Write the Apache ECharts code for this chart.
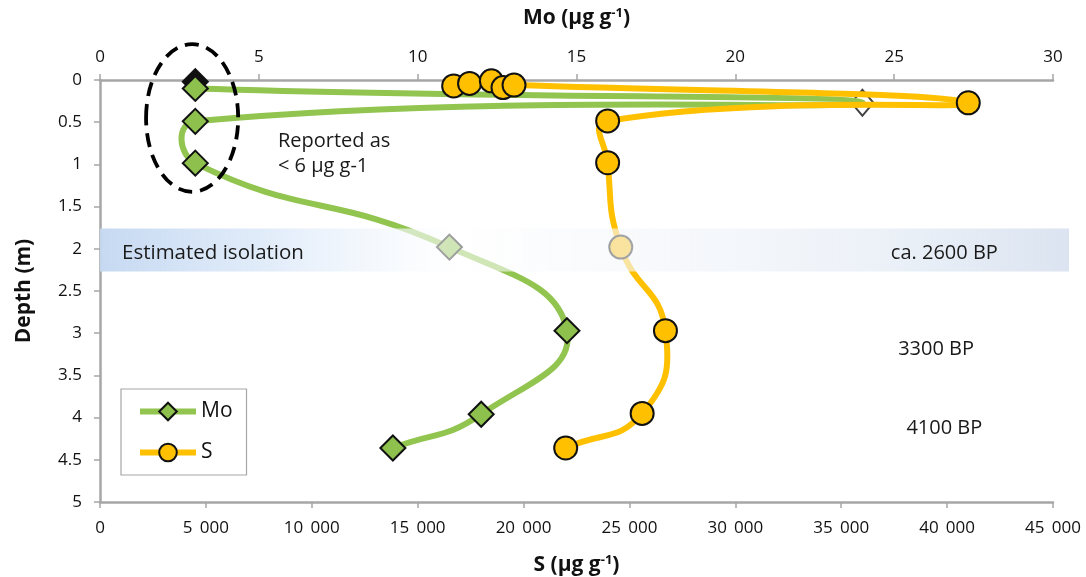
<!DOCTYPE html>
<html><head><meta charset="utf-8">
<script src="https://cdn.jsdelivr.net/npm/echarts@6/dist/echarts.min.js"></script>
<style>html,body{margin:0;padding:0;background:#fff}#c{width:1086px;height:577px}</style>
</head><body><div id="c"></div>
<script>
// ---- data ----
const depthMo = [0.02, 0.10, 0.27, 0.49, 0.985, 1.98, 2.97, 3.96, 4.36];
const moValues = [3.0, 3.0, 24.0, 3.0, 3.0, 11.0, 14.7, 12.0, 9.22];
const depthS = [0.07, 0.04, 0.01, 0.09, 0.06, 0.27, 0.485, 0.98, 1.98, 2.97, 3.95, 4.36];
const sValues = [16700, 17450, 18480, 19030, 19550, 41000, 23970, 23970, 24590, 26700, 25600, 21990];
const moTicks = [0, 5, 10, 15, 20, 25, 30];
const sTicks = [0, 5000, 10000, 15000, 20000, 25000, 30000, 35000, 40000, 45000];
const depthTicks = [0, 0.5, 1, 1.5, 2, 2.5, 3, 3.5, 4, 4.5, 5];
const isolationBand = [1.76, 2.27];
const ageLabels = ['ca. 2600 BP', '3300 BP', '4100 BP'];
const ageDepths = [2.05, 3.19, 4.13];

// annotation layout (Mo-axis units for x)
const ageLabelX = [26.58, 26.32, 26.58];

const FONT = '"Open Sans"';
const GREEN = '#92C450', GREEN_M = '#8DC04D', GOLD = '#FFC000', AXIS = '#A6A6A6';
const fmtS = v => v === 0 ? '0' : String(v).replace(/\B(?=(\d{3})+(?!\d))/g, '\u00a0\u2009');

const moData = moValues.map((v, i) => {
  const d = { value: [v, depthMo[i]] };
  if (i === 0) d.itemStyle = { color: '#111' };
  if (i === 2) d.symbol = 'none';
  return d;
});
const sData = sValues.map((v, i) => [v, depthS[i]]);
const moPts = moValues.map((v, i) => [v, depthMo[i]]);

// smoothed path through the data points (bezier, like the spreadsheet's smoothed line)
const SMOOTH = 0.5;
function smoothRender(xs, ys, color) {
  return function (params, api) {
    if (params.dataIndex !== 0) return null;
    const P = xs.map((x, i) => api.coord([x, ys[i]]));
    const n = P.length, cin = [], cout = [];
    for (let i = 0; i < n; i++) {
      const p = P[i], pr = P[Math.max(i - 1, 0)], nx = P[Math.min(i + 1, n - 1)];
      const vx = nx[0] - pr[0], vy = nx[1] - pr[1];
      const l0 = Math.hypot(p[0] - pr[0], p[1] - pr[1]), l1 = Math.hypot(nx[0] - p[0], nx[1] - p[1]);
      const r = (l0 + l1) ? l1 / (l0 + l1) : 0.5;
      cin[i] = [p[0] - vx * SMOOTH * (1 - r), p[1] - vy * SMOOTH * (1 - r)];
      cout[i] = [p[0] + vx * SMOOTH * r, p[1] + vy * SMOOTH * r];
    }
    const children = [];
    for (let i = 0; i < n - 1; i++) {
      children.push({ type: 'bezierCurve',
        shape: { x1: P[i][0], y1: P[i][1], x2: P[i + 1][0], y2: P[i + 1][1],
          cpx1: cout[i][0], cpy1: cout[i][1], cpx2: cin[i + 1][0], cpy2: cin[i + 1][1] },
        style: { fill: null, stroke: color, lineWidth: 6, lineCap: 'round' } });
    }
    return { type: 'group', children };
  };
}

const chart = echarts.init(document.getElementById('c'), null, { renderer: 'canvas' });
const nameStyle = {
  fontFamily: FONT, fontWeight: 'bold', fontSize: 21, color: '#111',
  rich: {
    b: { fontFamily: FONT, fontWeight: 'bold', fontSize: 21, color: '#111' },
    s: { fontFamily: FONT, fontWeight: 'bold', fontSize: 13, color: '#111', padding: [0, 0, 10, 0] }
  }
};
const axLine = { lineStyle: { color: AXIS, width: 2.5 } };
const axTick = { show: true, length: 6, lineStyle: { color: AXIS, width: 1.5 } };
const lbl = { fontFamily: FONT, fontSize: 17, color: '#111' };

chart.setOption({
  animation: false,
  grid: { left: 100, right: 33, top: 80, bottom: 75, containLabel: false, outerBoundsMode: 'none' },
  legend: {
    orient: 'vertical', left: 121, top: 389,
    padding: [12, 14, 12, 16], itemGap: 20, itemWidth: 56, itemHeight: 22,
    borderColor: AXIS, borderWidth: 1.2, backgroundColor: '#fff',
    textStyle: { fontFamily: FONT, fontSize: 21, color: '#111' },
    data: [
      { name: 'Mo', lineStyle: { color: GREEN, width: 6, opacity: 1 } },
      { name: 'S', lineStyle: { color: GOLD, width: 6, opacity: 1 } }
    ]
  },
  xAxis: [
    { type: 'value', position: 'top', min: 0, max: 30, interval: 5,
      name: '{b|Mo (µg g}{s|-1}{b|)}', nameLocation: 'middle', nameGap: 50, nameTextStyle: nameStyle,
      axisLine: axLine, axisTick: axTick, splitLine: { show: false },
      axisLabel: Object.assign({ margin: 14 }, lbl) },
    { type: 'value', position: 'bottom', min: 0, max: 45000, interval: 5000,
      name: '{b|S (µg g}{s|-1}{b|)}', nameLocation: 'middle', nameGap: 52, nameTextStyle: nameStyle,
      axisLine: axLine, axisTick: axTick, splitLine: { show: false },
      axisLabel: Object.assign({ margin: 18, formatter: fmtS }, lbl) }
  ],
  yAxis: { type: 'value', inverse: true, min: 0, max: 5, interval: 0.5,
    name: 'Depth (m)', nameLocation: 'middle', nameGap: 65,
    nameTextStyle: { fontFamily: FONT, fontWeight: 'bold', fontSize: 21, color: '#111' },
    axisLine: { show: true, lineStyle: { color: AXIS, width: 2.5 } }, axisTick: axTick,
    splitLine: { show: false }, axisLabel: Object.assign({ margin: 18, padding: [4, 0, 0, 0] }, lbl) },
  series: [
    { name: 'MoHidden', type: 'scatter', xAxisIndex: 0, z: 1, symbol: 'diamond', symbolSize: [22, 26],
      data: [moPts[2]], itemStyle: { color: '#fff', borderColor: '#111', borderWidth: 2 },
      silent: true, legendHoverLink: false },
    { name: 'MoCurve', type: 'custom', xAxisIndex: 0, z: 2, clip: false, silent: true,
      data: moPts, renderItem: smoothRender(moValues, depthMo, GREEN) },
    { name: 'SCurve', type: 'custom', xAxisIndex: 1, z: 3, clip: false, silent: true,
      data: sData, renderItem: smoothRender(sValues, depthS, GOLD) },
    { name: 'Mo', type: 'line', xAxisIndex: 0, z: 4, data: moData,
      symbol: 'diamond', symbolSize: 25,
      lineStyle: { color: GREEN, width: 6, opacity: 0 },
      itemStyle: { color: GREEN_M, borderColor: '#111', borderWidth: 2 } },
    { name: 'S', type: 'line', xAxisIndex: 1, z: 5, data: sData,
      symbol: 'circle', symbolSize: 23,
      lineStyle: { color: GOLD, width: 6, opacity: 0 },
      itemStyle: { color: GOLD, borderColor: '#111', borderWidth: 2 } }
  ]
});

function px(x, d) { return chart.convertToPixel({ xAxisIndex: 0, yAxisIndex: 0 }, [x, d]); }
const bTop = px(0, isolationBand[0]), bBot = px(30, isolationBand[1]);
const cen = px(2.9, 0.45), ex = px(2.9 + 1.45, 0.45 + 0.875);
const rep = px(5.6, 0.575);
const graphics = [
  { type: 'rect', z: 50, silent: true,
    shape: { x: bTop[0], y: bTop[1], width: 1069 - bTop[0], height: bBot[1] - bTop[1] },
    style: { fill: new echarts.graphic.LinearGradient(0, 0, 1, 0, [
      { offset: 0, color: 'rgba(196,216,241,0.97)' },
      { offset: 0.18, color: 'rgba(222,234,249,0.85)' },
      { offset: 0.37, color: 'rgba(255,255,255,0.58)' },
      { offset: 0.5, color: 'rgba(246,248,251,0.6)' },
      { offset: 0.8, color: 'rgba(233,239,247,0.85)' },
      { offset: 1, color: 'rgba(218,227,240,0.97)' }]) } },
  { type: 'text', z: 51, x: 122, y: (bTop[1] + bBot[1]) / 2 + 3,
    style: { text: 'Estimated isolation', font: '20.5px ' + FONT, fill: '#1a1a1a', verticalAlign: 'middle' } },
  { type: 'ellipse', z: 52, silent: true,
    shape: { cx: cen[0], cy: cen[1], rx: ex[0] - cen[0], ry: ex[1] - cen[1] },
    style: { fill: 'none', stroke: '#000', lineWidth: 3.8, lineDash: [14, 8] } },
  { type: 'text', z: 51, x: rep[0], y: rep[1],
    style: { text: 'Reported as\n< 6 µg g-1', font: '20px ' + FONT, fill: '#1a1a1a', lineHeight: 25 } }
];
ageLabels.forEach((t, i) => {
  const p = px(ageLabelX[i], ageDepths[i]);
  graphics.push({ type: 'text', z: 51, x: p[0], y: p[1],
    style: { text: t, font: '20px ' + FONT, fill: '#1a1a1a', align: 'center', verticalAlign: 'middle' } });
});
chart.setOption({ graphic: graphics });
</script></body></html>
